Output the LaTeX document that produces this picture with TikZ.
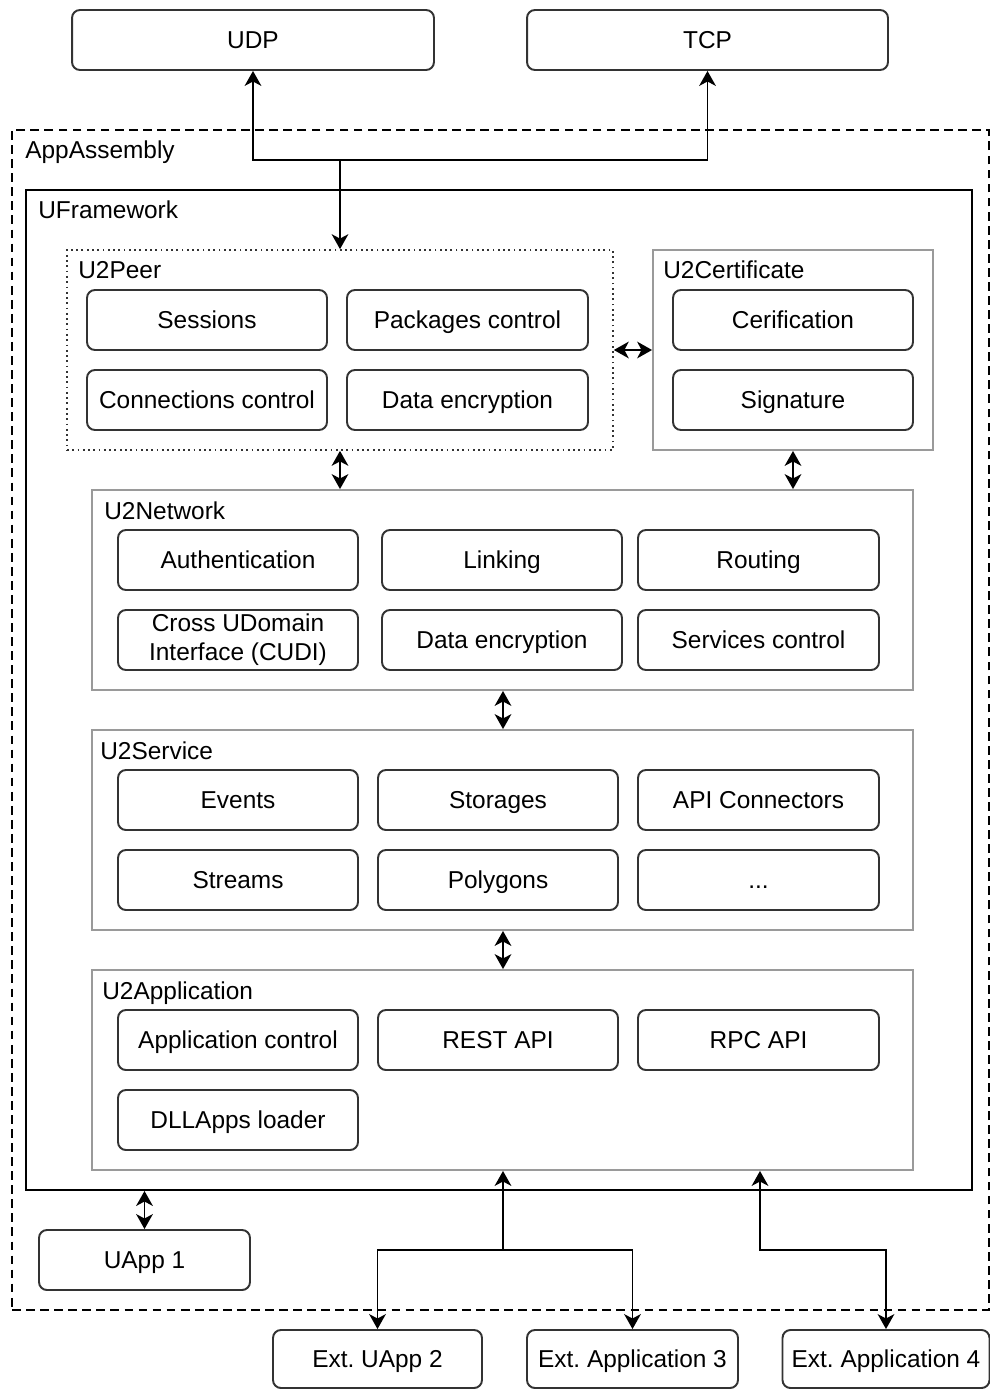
\documentclass[tikz,border=0pt]{standalone}
\usepackage{fontspec}
\setmainfont{Liberation Sans}
\usetikzlibrary{arrows.meta}
\definecolor{edgedark}{HTML}{333333}
\definecolor{edgegray}{HTML}{9A9A9A}
\frenchspacing
\begin{document}
\begin{tikzpicture}[x=0.02cm,y=-0.02cm,
  every node/.style={font=\fontsize{13.9pt}{16.4pt}\selectfont, text=black},
  boxbase/.style={draw=edgedark, line width=1.1pt, rounded corners=4.5pt, fill=white,
    minimum width=4.8cm, minimum height=1.2cm, inner sep=0pt, align=center},
  item/.style={boxbase, text height=9.95pt, text depth=0pt},
  group/.style={draw=edgegray, line width=1.1pt, inner sep=0pt},
  tag/.style={anchor=base west, inner sep=0pt},
  link/.style={line width=1.1pt, draw=black, -{Stealth[length=8.5pt,width=9.5pt,inset=2.5pt]}},
  twoway/.style={line width=1.1pt, draw=black,
    {Stealth[length=8.5pt,width=9.5pt,inset=2.5pt]}-{Stealth[length=8.5pt,width=9.5pt,inset=2.5pt]}}]
  \useasboundingbox (0,0) rectangle (990,1389);

  % transport protocols
  \node[item, minimum width=7.24cm] (udp) at (253,40) {UDP};
  \node[item, minimum width=7.22cm] (tcp) at (707.5,40) {TCP};

  % assembly and framework frames
  \node[draw=black, line width=1pt, dash pattern=on 5pt off 3pt, inner sep=0pt,
        minimum width=19.54cm, minimum height=23.6cm] (asm) at (500.5,720) {};
  \node[tag] (asmlbl) at (25,158) {AppAssembly};
  \node[draw=black, line width=1.2pt, inner sep=0pt,
        minimum width=18.92cm, minimum height=20cm] (fw) at (499,690) {};
  \node[tag] (fwlbl) at (38,218) {UFramework};

  % U2Peer
  \node[draw=edgedark, line width=1pt, dotted, inner sep=0pt,
        minimum width=10.92cm, minimum height=4cm] (peer) at (340,350) {};
  \node[tag] (peerlbl) at (78,278) {U2Peer};
  \node[item] (ses) at (207,320) {Sessions};
  \node[item, minimum width=4.82cm] (pkg) at (467.5,320) {Packages control};
  \node[item] (con) at (207,400) {Connections control};
  \node[item, minimum width=4.82cm] (enc1) at (467.5,400) {Data encryption};

  % U2Certificate
  \node[group, minimum width=5.6cm, minimum height=4cm] (cert) at (793,350) {};
  \node[tag] (certlbl) at (663,278) {U2Certificate};
  \node[item] (cerif) at (793,320) {Cerification};
  \node[item] (sig) at (793,400) {Signature};

  % U2Network
  \node[group, minimum width=16.42cm, minimum height=4cm] (net) at (502.5,590) {};
  \node[tag] (netlbl) at (104,519) {U2Network};
  \node[item] (auth) at (238,560) {Authentication};
  \node[item] (lnk) at (502,560) {Linking};
  \node[item, minimum width=4.82cm] (rout) at (758.5,560) {Routing};
  \node[boxbase] (cudi) at (238,640) {Cross UDomain\\Interface (CUDI)};
  \node[item] (enc2) at (502,640) {Data encryption};
  \node[item, minimum width=4.82cm] (svcctl) at (758.5,640) {Services control};

  % U2Service
  \node[group, minimum width=16.42cm, minimum height=4cm] (svc) at (502.5,830) {};
  \node[tag] (svclbl) at (100,759) {U2Service};
  \node[item] (evt) at (238,800) {Events};
  \node[item] (sto) at (498,800) {Storages};
  \node[item, minimum width=4.82cm] (api) at (758.5,800) {API Connectors};
  \node[item] (stm) at (238,880) {Streams};
  \node[item] (poly) at (498,880) {Polygons};
  \node[item, minimum width=4.82cm] (more) at (758.5,880) {...};

  % U2Application
  \node[group, minimum width=16.42cm, minimum height=4cm] (app) at (502.5,1070) {};
  \node[tag] (applbl) at (102,999) {U2Application};
  \node[item] (appctl) at (238,1040) {Application control};
  \node[item] (rest) at (498,1040) {REST API};
  \node[item, minimum width=4.82cm] (rpc) at (758.5,1040) {RPC API};
  \node[item] (dll) at (238,1120) {DLLApps loader};

  % applications
  \node[item, minimum width=4.22cm] (uapp1) at (144.5,1260) {UApp 1};
  \node[item, minimum width=4.18cm, minimum height=1.16cm] (ext2) at (377.5,1359) {Ext. UApp 2};
  \node[item, minimum width=4.22cm, minimum height=1.16cm] (ext3) at (632.5,1359) {Ext. Application 3};
  \node[item, minimum width=4.14cm, minimum height=1.16cm] (ext4) at (886,1359) {Ext. Application 4};

  % transport links
  \coordinate (jtop) at (340,160);
  \draw[link] (jtop) -- (peer.north);
  \draw[link] (jtop) -| (udp.south);
  \draw[link] (jtop) -| (tcp.south);

  % layer links
  \draw[twoway] (peer.east) -- (cert.west);
  \draw[twoway] (peer.south) -- (peer.south |- net.north);
  \draw[twoway] (cert.south) -- (cert.south |- net.north);
  \draw[twoway] (net.south -| 503,0) -- (svc.north -| 503,0);
  \draw[twoway] (svc.south -| 503,0) -- (app.north -| 503,0);
  \draw[twoway] (uapp1.north |- fw.south) -- (uapp1.north);

  % external application links
  \coordinate (jbot) at (503,1250);
  \draw[link] (jbot) -- (jbot |- app.south);
  \draw[link] (jbot) -| (ext2.north);
  \draw[link] (jbot) -| (ext3.north);
  \coordinate (jext) at (760,1250);
  \draw[twoway] (jext |- app.south) -- (jext) -| (ext4.north);
\end{tikzpicture}
\end{document}
